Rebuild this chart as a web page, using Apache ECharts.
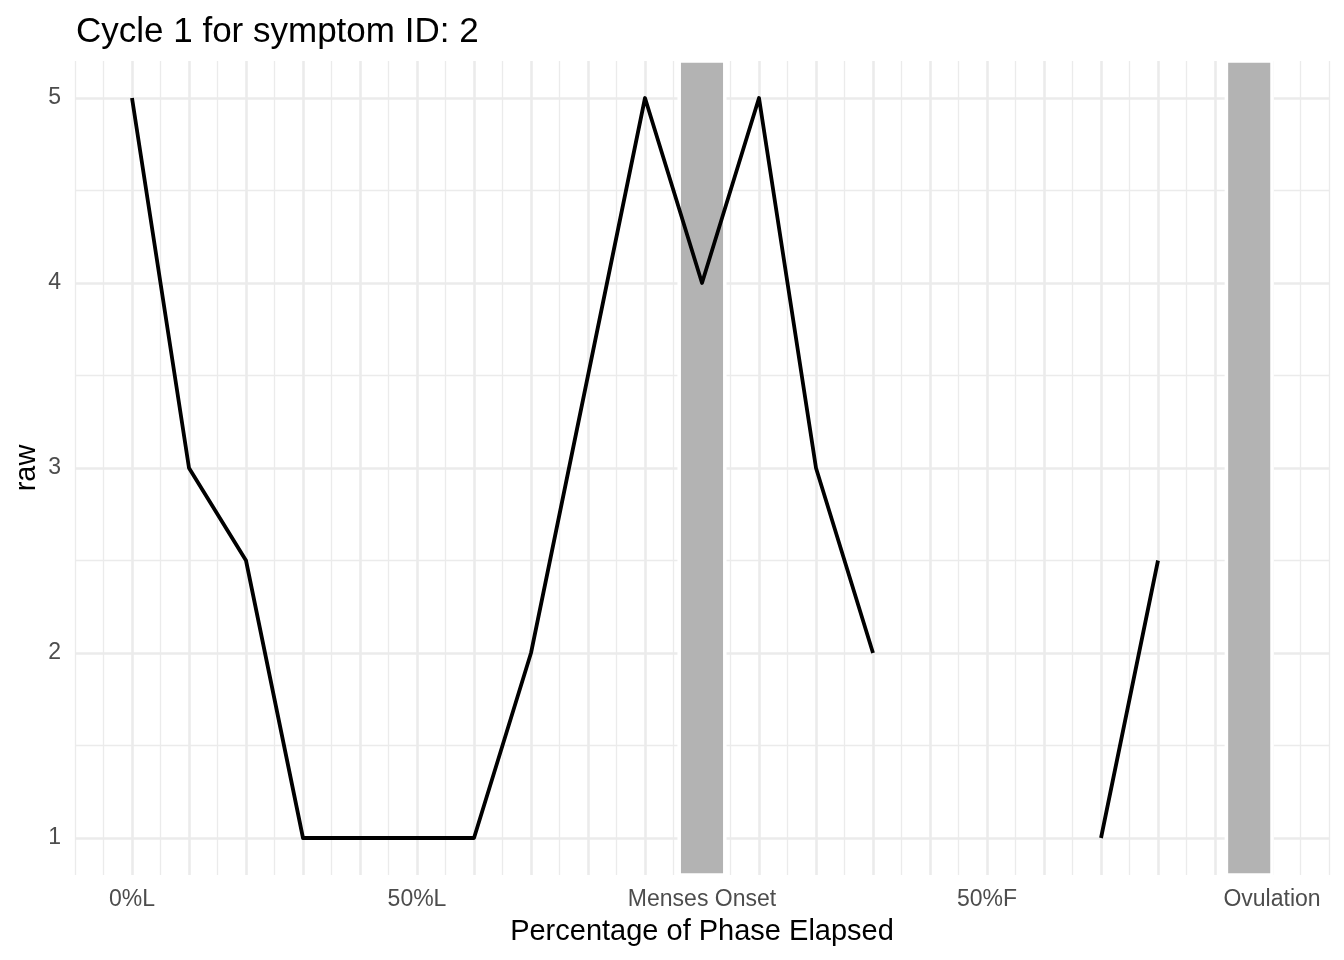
<!DOCTYPE html>
<html>
<head>
<meta charset="utf-8">
<script src="https://cdn.jsdelivr.net/npm/echarts@6/dist/echarts.min.js"></script>
<style>
html,body{margin:0;padding:0;background:#ffffff;}
#chart{width:1344px;height:960px;}
</style>
</head>
<body>
<div id="chart"></div>
<script>
// ---- data ----
const phasePositions = [0,1,2,3,4,5,6,7,8,9,10,11,12,13,14,15,16,17,18,19,20];
const rawValues = [5,3,2.5,1,1,1,1,2,3.5,5,4,5,3,2,null,null,null,1,2.5,null,null];
const tickPositions = [0,5,10,15,20];
const tickLabels = ['0%L','50%L','Menses Onset','50%F','Ovulation'];
const shadedPhases = [[9.6,10.4],[19.2,20]];
const yMinorBreaks = [1.5,2.5,3.5,4.5];
const xEdgeBreaks = [-1,21];

const FONT = 'Liberation Sans, Arial, Helvetica, sans-serif';
const GRID = '#EBEBEB';

const chart = echarts.init(document.getElementById('chart'), null, {renderer:'canvas'});

const minorGridData = yMinorBreaks.map(v => ({yAxis: v})).concat(xEdgeBreaks.map(v => ({xAxis: v})));

const option = {
  animation: false,
  backgroundColor: '#ffffff',
  title: {
    text: 'Cycle 1 for symptom ID: 2',
    left: 71,
    top: 10,
    textStyle: {fontFamily: FONT, fontSize: 35, fontWeight: 'normal', color: '#000000'}
  },
  grid: {left: 75, right: 15, top: 61, bottom: 85, containLabel: false},
  xAxis: {
    type: 'value',
    min: -1,
    max: 21,
    interval: 1,
    name: 'Percentage of Phase Elapsed',
    nameLocation: 'middle',
    nameGap: 42,
    nameMoveOverlap: false,
    nameTextStyle: {fontFamily: FONT, fontSize: 29, color: '#000000'},
    axisLine: {show: false},
    axisTick: {show: false},
    axisLabel: {
      fontFamily: FONT, fontSize: 23, color: '#4D4D4D', margin: 13,
      formatter: function (v) {
        const i = tickPositions.indexOf(Math.round(v * 1000) / 1000);
        return i >= 0 ? tickLabels[i] : '';
      }
    },
    splitLine: {show: true, showMinLine: false, showMaxLine: false, lineStyle: {color: GRID, width: 2.6}},
    minorTick: {show: false, splitNumber: 2},
    minorSplitLine: {show: true, lineStyle: {color: GRID, width: 1.3}}
  },
  yAxis: {
    type: 'value',
    min: 0.8,
    max: 5.2,
    minInterval: 1,
    maxInterval: 1,
    name: 'raw',
    nameLocation: 'middle',
    nameGap: 34,
    nameMoveOverlap: false,
    nameRotate: 90,
    nameTextStyle: {fontFamily: FONT, fontSize: 29, color: '#000000'},
    axisLine: {show: false},
    axisTick: {show: false},
    axisLabel: {
      fontFamily: FONT, fontSize: 23, color: '#4D4D4D', margin: 14,
      formatter: function (v) {
        return Math.abs(v - Math.round(v)) < 1e-9 ? String(Math.round(v)) : '';
      }
    },
    splitLine: {show: true, showMinLine: false, showMaxLine: false, lineStyle: {color: GRID, width: 2.6}}
  },
  series: [
    {
      name: 'minorGrid',
      type: 'line',
      data: [],
      silent: true,
      z: 0,
      markLine: {
        silent: true,
        z: 0.5,
        symbol: ['none', 'none'],
        label: {show: false},
        lineStyle: {color: GRID, width: 1.3, type: 'solid'},
        emphasis: {disabled: true},
        data: minorGridData
      }
    },
    {
      name: 'phases',
      type: 'line',
      data: [],
      silent: true,
      z: 1,
      markArea: {
        silent: true,
        z: 1,
        itemStyle: {color: '#B3B3B3', borderColor: '#ffffff', borderWidth: 3.5},
        emphasis: {disabled: true},
        data: shadedPhases.map(p => [{xAxis: p[0]}, {xAxis: p[1]}])
      }
    },
    {
      name: 'raw',
      type: 'line',
      z: 3,
      silent: true,
      showSymbol: false,
      symbol: 'none',
      connectNulls: false,
      lineStyle: {color: '#000000', width: 3.8, cap: 'butt', join: 'round'},
      data: phasePositions.map((x, i) => [x, rawValues[i]])
    }
  ]
};

chart.setOption(option);
</script>
</body>
</html>
